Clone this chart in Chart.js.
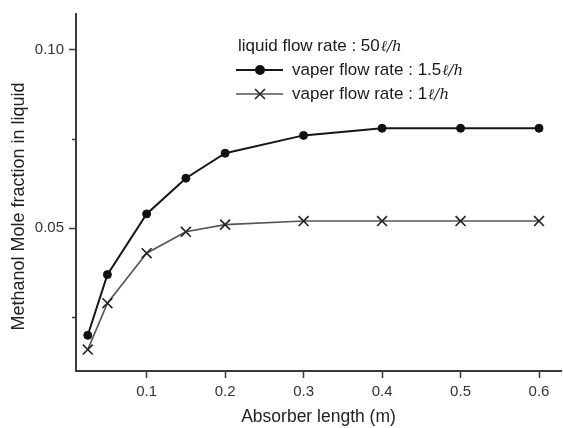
<!DOCTYPE html>
<html lang="en">
<head>
<meta charset="UTF-8">
<title>Methanol mole fraction</title>
<script src="https://cdn.jsdelivr.net/npm/chart.js@4.4.0/dist/chart.umd.min.js"></script>
<style>
  html, body { margin: 0; padding: 0; background: #fff; }
  #wrap { width: 563px; height: 428px; }
</style>
</head>
<body>
<div id="wrap"><canvas id="chart" width="563" height="428"></canvas></div>
<script>
// data
const lengths = [0.025, 0.05, 0.1, 0.15, 0.2, 0.3, 0.4, 0.5, 0.6];
const vapor15 = [0.020, 0.037, 0.054, 0.064, 0.071, 0.076, 0.078, 0.078, 0.078];
const vapor1  = [0.016, 0.029, 0.043, 0.049, 0.051, 0.052, 0.052, 0.052, 0.052];
const xTicks = [0.1, 0.2, 0.3, 0.4, 0.5, 0.6];
const yTicks = [0.025, 0.05, 0.075, 0.10];
const yLabeled = ['0.05', '0.10'];

const yTitle = 'Methanol Mole fraction in liquid';
const legendTitle = 'liquid flow rate : 50';
const seriesNames = ['vaper flow rate : 1.5', 'vaper flow rate : 1'];
const unit = 'ℓ/h';

const FONT = '"Liberation Sans", Arial, sans-serif';
const UNIT_FONT = 'italic 15px "DejaVu Serif", serif';
const axisColor = '#3a3a3a';

function pts(ys) {
  return lengths.map((x, i) => ({ x: x, y: ys[i] }));
}

function isMajorY(v) {
  return yLabeled.includes(v.toFixed(2));
}

// y title sits a bit below the axis middle in the original, so draw it by hand
// also the short minor ticks on the y axis
const yAxisExtras = {
  id: 'yAxisExtras',
  afterDraw(chart) {
    const ctx = chart.ctx;
    const a = chart.chartArea;
    const ys = chart.scales.y;
    ctx.save();
    ctx.strokeStyle = axisColor;
    ctx.lineWidth = 1.5;
    ys.ticks.forEach(t => {
      if (isMajorY(t.value)) return;
      const py = Math.round(ys.getPixelForValue(t.value)) + 0.5;
      ctx.beginPath();
      ctx.moveTo(a.left - 4, py);
      ctx.lineTo(a.left, py);
      ctx.stroke();
    });

    ctx.translate(19, (a.top + a.bottom) / 2 + 14);
    ctx.rotate(-Math.PI / 2);
    ctx.textAlign = 'center';
    ctx.textBaseline = 'middle';
    ctx.fillStyle = '#222';
    ctx.font = '18px ' + FONT;
    ctx.fillText(yTitle, 0, 0);
    ctx.restore();
  }
};

// legend drawn inside the plot area, upper middle
const legendPlugin = {
  id: 'innerLegend',
  afterDraw(chart) {
    const ctx = chart.ctx;
    const a = chart.chartArea;
    const x0 = a.left + 160;
    let y = a.top + 32;
    ctx.save();
    ctx.textBaseline = 'middle';
    ctx.fillStyle = '#1a1a1a';
    ctx.font = '17px ' + FONT;
    ctx.fillText(legendTitle, x0 + 2, y);
    let w = ctx.measureText(legendTitle).width;
    ctx.font = UNIT_FONT;
    ctx.fillText(unit, x0 + 2 + w + 1, y + 1);

    chart.data.datasets.forEach((ds, i) => {
      y += 24;
      ctx.strokeStyle = ds.borderColor;
      ctx.lineWidth = ds.borderWidth;
      ctx.beginPath();
      ctx.moveTo(x0, y);
      ctx.lineTo(x0 + 47, y);
      ctx.stroke();
      ctx.strokeStyle = ds.pointBorderColor;
      ctx.fillStyle = ds.pointBackgroundColor || ds.pointBorderColor;
      Chart.helpers.drawPoint(ctx, {
        pointStyle: ds.pointStyle,
        radius: ds.pointRadius,
        borderWidth: ds.pointBorderWidth
      }, x0 + 24, y);
      ctx.fillStyle = '#1a1a1a';
      ctx.font = '17px ' + FONT;
      ctx.fillText(seriesNames[i], x0 + 56, y);
      w = ctx.measureText(seriesNames[i]).width;
      ctx.font = UNIT_FONT;
      ctx.fillText(unit, x0 + 56 + w + 1, y + 1);
    });
    ctx.restore();
  }
};

new Chart(document.getElementById('chart'), {
  type: 'line',
  data: {
    datasets: [
      {
        label: seriesNames[0] + unit,
        data: pts(vapor15),
        borderColor: '#161616',
        backgroundColor: '#161616',
        borderWidth: 2,
        pointStyle: 'circle',
        pointRadius: 4,
        pointBackgroundColor: '#111',
        pointBorderColor: '#111',
        pointBorderWidth: 1
      },
      {
        label: seriesNames[1] + unit,
        data: pts(vapor1),
        borderColor: '#555',
        backgroundColor: '#555',
        borderWidth: 1.6,
        pointStyle: 'crossRot',
        pointRadius: 7,
        pointBorderColor: '#222',
        pointBorderWidth: 1.6
      }
    ]
  },
  options: {
    responsive: false,
    animation: false,
    layout: { autoPadding: false, padding: { top: 12, right: 2, left: 0, bottom: 0 } },
    plugins: {
      legend: { display: false },
      tooltip: { enabled: false }
    },
    scales: {
      x: {
        type: 'linear',
        min: 0.01,
        max: 0.628,
        afterBuildTicks: s => { s.ticks = xTicks.map(v => ({ value: v })); },
        afterFit: s => { s.height = 57; },
        border: { color: axisColor, width: 2 },
        grid: { drawOnChartArea: false, tickLength: 7, tickColor: axisColor, tickWidth: 1.5 },
        ticks: {
          color: '#333',
          font: { family: FONT, size: 15 },
          padding: 5,
          maxRotation: 0,
          callback: v => v.toFixed(1)
        },
        title: {
          display: true,
          text: 'Absorber length (m)',
          color: '#222',
          font: { family: FONT, size: 17.5 },
          padding: { top: 4, bottom: 0 }
        }
      },
      y: {
        type: 'linear',
        min: 0.01,
        max: 0.11,
        afterBuildTicks: s => { s.ticks = yTicks.map(v => ({ value: v })); },
        afterFit: s => { s.width = 76; },
        border: { color: axisColor, width: 2 },
        grid: {
          drawOnChartArea: false,
          tickLength: 7,
          tickWidth: 1.5,
          tickColor: c => (c.tick && isMajorY(c.tick.value)) ? axisColor : 'rgba(0,0,0,0)'
        },
        ticks: {
          color: '#333',
          font: { family: FONT, size: 15 },
          padding: 5,
          callback: v => isMajorY(v) ? v.toFixed(2) : ''
        }
      }
    }
  },
  plugins: [yAxisExtras, legendPlugin]
});
</script>
</body>
</html>
